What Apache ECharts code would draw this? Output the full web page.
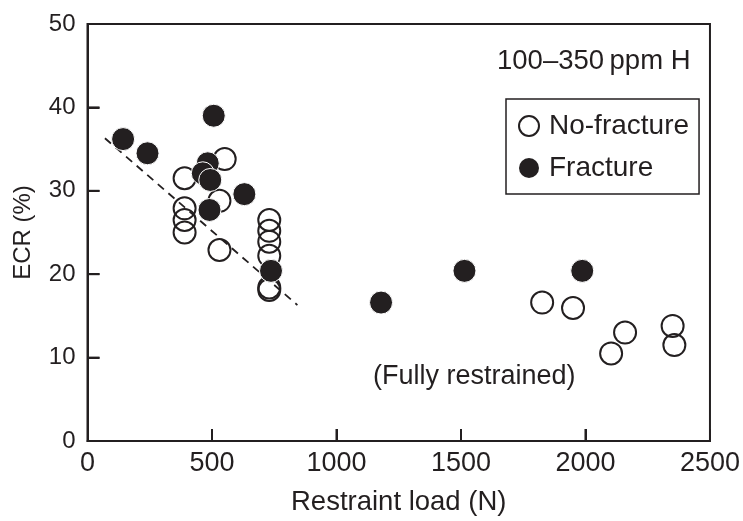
<!DOCTYPE html>
<html><head><meta charset="utf-8">
<script src="https://cdn.jsdelivr.net/npm/echarts@6/dist/echarts.min.js"></script>
<style>html,body{margin:0;padding:0;background:#fff}#c{width:743px;height:521px}</style>
</head><body><div id="c"></div>
<script>
var xTicks = [0, 500, 1000, 1500, 2000, 2500];
var yTicks = [0, 10, 20, 30, 40, 50];
var noFractureX = [390, 390, 390, 390, 551, 530, 530, 730, 730, 730, 730, 730, 730, 1826, 1950, 2103, 2159, 2350, 2357];
var noFractureY = [31.5, 27.9, 26.5, 25.0, 33.8, 28.8, 22.9, 26.5, 25.2, 23.9, 22.2, 18.4, 18.1, 16.6, 15.95, 10.5, 13.0, 13.8, 11.5];
var fractureX = [143, 241, 507, 483, 463, 493, 630, 490, 737, 1179, 1514, 1987];
var fractureY = [36.2, 34.5, 39.0, 33.3, 32.1, 31.3, 29.6, 27.7, 20.4, 16.6, 20.4, 20.4];
var trendX = [70, 843];
var trendY = [36.3, 16.3];
var seriesNames = ['No-fracture', 'Fracture'];
var xName = 'Restraint load (N)';
var yName = 'ECR (%)';
var noteText = '100–350\u2009ppm H';
var conditionText = '(Fully restrained)';

function pairs(xs, ys) { return xs.map(function (x, i) { return [x, ys[i]]; }); }
var ink = '#231f20';
var font = "'Liberation Sans', Arial, Helvetica, sans-serif";
var chart = echarts.init(document.getElementById('c'), null, {renderer: 'canvas'});
var baseGraphics = [
  {type: 'text', left: 497, top: 47, style: {text: noteText, font: "27.5px " + font, fill: ink}},
  {type: 'text', left: 373, top: 363, style: {text: conditionText, font: "27px " + font, fill: ink}}
];
chart.setOption({
  animation: false,
  backgroundColor: '#fff',
  textStyle: {fontFamily: font, color: ink},
  grid: {left: 87.5, right: 31, top: 24, bottom: 77, show: true, borderColor: ink, borderWidth: 2, backgroundColor: 'transparent'},
  xAxis: {
    type: 'value', min: xTicks[0], max: xTicks[xTicks.length - 1], interval: 500,
    name: xName, nameLocation: 'middle', nameGap: 47,
    nameTextStyle: {fontSize: 27.5, color: ink, fontFamily: font},
    axisLine: {show: true, onZero: false, lineStyle: {color: ink, width: 2}},
    axisTick: {show: true, inside: true, length: 12, lineStyle: {color: ink, width: 2}},
    axisLabel: {fontSize: 27, color: ink, margin: 9, fontFamily: font, formatter: function (v) { return String(v); }},
    splitLine: {show: false}
  },
  yAxis: {
    type: 'value', min: yTicks[0], max: yTicks[yTicks.length - 1], interval: 10,
    name: yName, nameLocation: 'middle', nameGap: 52, nameRotate: 90,
    nameTextStyle: {fontSize: 24, color: ink, fontFamily: font},
    axisLine: {show: true, onZero: false, lineStyle: {color: ink, width: 2}},
    axisTick: {show: true, inside: true, length: 12, lineStyle: {color: ink, width: 2}},
    axisLabel: {fontSize: 24, color: ink, margin: 12, fontFamily: font, formatter: function (v) { return String(v); }},
    splitLine: {show: false}
  },
  legend: {
    orient: 'vertical', left: 506, top: 99,
    padding: [13, 10, 12, 12], itemGap: 14, itemWidth: 20, itemHeight: 20,
    borderColor: ink, borderWidth: 1.5, backgroundColor: '#fff',
    textStyle: {fontSize: 28, color: ink, fontFamily: font, padding: [0, 0, 0, 5]},
    data: [
      {name: seriesNames[0], icon: 'circle', itemStyle: {color: '#fff', borderColor: ink, borderWidth: 2, opacity: 1}},
      {name: seriesNames[1], icon: 'circle', itemStyle: {color: ink, borderWidth: 0, opacity: 1}}
    ]
  },
  graphic: baseGraphics,
  series: [
    {
      type: 'line', data: pairs(trendX, trendY), symbol: 'none', silent: true, z: 1,
      lineStyle: {color: ink, width: 1.8, type: [8, 6], opacity: 1}
    },
    {
      name: seriesNames[0], type: 'scatter', data: pairs(noFractureX, noFractureY), symbol: 'circle', symbolSize: 22, z: 2,
      itemStyle: {color: 'rgba(255,255,255,0)', borderColor: ink, borderWidth: 2, opacity: 1}
    },
    {
      name: seriesNames[1], type: 'scatter', data: pairs(fractureX, fractureY), symbol: 'circle', symbolSize: 23, z: 3,
      itemStyle: {color: ink, borderColor: '#fff', borderWidth: 1, opacity: 1}
    }
  ]
});
// inward tick marks, positioned through the chart's own axis scales
var tickLines = [];
xTicks.slice(1, -1).forEach(function (v) {
  var p = chart.convertToPixel({gridIndex: 0}, [v, yTicks[0]]);
  tickLines.push({type: 'line', z: 50, shape: {x1: p[0], y1: p[1], x2: p[0], y2: p[1] - 12}, style: {stroke: ink, lineWidth: 2}});
});
yTicks.slice(1, -1).forEach(function (v) {
  var p = chart.convertToPixel({gridIndex: 0}, [xTicks[0], v]);
  tickLines.push({type: 'line', z: 50, shape: {x1: p[0], y1: p[1], x2: p[0] + 12, y2: p[1]}, style: {stroke: ink, lineWidth: 2}});
});
chart.setOption({graphic: baseGraphics.concat(tickLines)});
</script></body></html>
